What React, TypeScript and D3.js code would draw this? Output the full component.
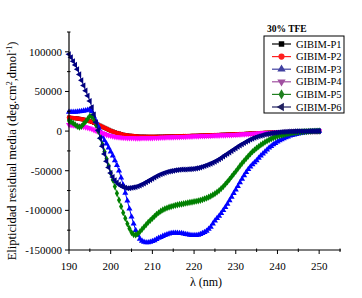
import React from "react";
import * as d3 from "d3";

const wavelengths: number[] = d3.range(0, 121).map((i) => 190 + i * 0.5);

const p2: number[] = [
  17000, 16700, 16500, 16200, 16000, 15500, 15000, 14500, 14000, 13300,
  12500, 11500, 10500, 9300, 8000, 6800, 5500, 4200, 3000, 1700,
  500, -500, -1500, -2300, -3000, -3800, -4500, -5000, -5500, -5800,
  -6000, -6300, -6500, -6800, -7000, -7000, -7000, -7100, -7200, -7200,
  -7200, -7200, -7100, -7000, -7000, -7000, -6900, -6800, -6800, -6700,
  -6700, -6600, -6600, -6500, -6400, -6300, -6300, -6200, -6100, -6000,
  -6000, -5900, -5800, -5700, -5600, -5500, -5400, -5300, -5200, -5100,
  -5000, -4900, -4800, -4700, -4600, -4500, -4400, -4300, -4200, -4100,
  -4000, -3900, -3800, -3700, -3600, -3400, -3300, -3100, -3000, -2900,
  -2800, -2600, -2500, -2300, -2200, -2100, -2000, -1900, -1800, -1700,
  -1600, -1500, -1400, -1300, -1200, -1100, -1000, -900, -800, -700,
  -600, -520, -450, -370, -300, -250, -200, -150, -100, -50,
  0,
];
const p1: number[] = [
  17000, 16700, 16500, 16200, 16000, 15500, 15000, 14500, 14000, 13300,
  12500, 11500, 10500, 9300, 8000, 6800, 5500, 4200, 3000, 1700,
  500, -500, -1500, -2300, -3000, -3800, -4500, -5000, -5500, -5800,
  -6000, -6300, -6500, -6800, -7000, -7000, -7000, -7100, -7200, -7200,
  -7200, -7200, -7100, -7000, -7000, -7000, -6900, -6800, -6800, -6700,
  -6700, -6600, -6600, -6500, -6400, -6300, -6300, -6200, -6100, -6000,
  -6000, -5900, -5800, -5700, -5600, -5500, -5400, -5300, -5200, -5100,
  -5000, -4900, -4800, -4700, -4600, -4500, -4400, -4300, -4200, -4100,
  -4000, -3900, -3800, -3700, -3600, -3400, -3300, -3100, -3000, -2900,
  -2800, -2600, -2500, -2300, -2200, -2100, -2000, -1900, -1800, -1700,
  -1600, -1500, -1400, -1300, -1200, -1100, -1000, -900, -800, -700,
  -600, -520, -450, -370, -300, -250, -200, -150, -100, -50,
  0,
];
const p3: number[] = [
  24000, 24000, 24000, 24200, 24500, 24700, 25000, 25500, 26000, 26500,
  27000, 25000, 18000, 12000, 6000, 0, -7000, -12000, -16000, -21000,
  -26000, -31000, -37000, -43000, -50000, -59000, -68000, -78000, -88000, -98000,
  -108000, -117000, -125000, -131000, -136000, -138500, -140000, -140500, -140500, -140000,
  -139000, -138000, -136500, -135000, -134000, -132500, -131500, -130500, -129500, -129000,
  -128500, -128500, -128500, -128800, -129000, -129500, -130000, -130500, -131000, -131300,
  -131500, -131500, -131000, -130000, -129000, -127500, -126000, -123500, -121000, -117000,
  -113000, -110000, -107000, -103500, -100000, -96000, -92000, -87500, -83000, -78500,
  -74000, -69500, -65000, -60500, -56000, -52000, -48000, -45000, -42000, -39500,
  -37000, -34000, -31000, -28500, -26000, -23500, -21000, -19000, -17000, -15200,
  -13500, -12000, -10500, -9200, -8000, -7000, -6000, -5200, -4500, -3900,
  -3300, -2800, -2300, -1900, -1500, -1200, -900, -650, -400, -200,
  0,
];
const p4: number[] = [
  8000, 7700, 7500, 7200, 7000, 6500, 6000, 5500, 5000, 4300,
  3500, 2500, 1500, 500, -500, -1500, -2500, -3500, -4500, -5300,
  -6000, -6500, -7000, -7400, -7800, -8000, -8300, -8500, -8600, -8700,
  -8800, -8850, -8900, -8900, -8900, -8850, -8800, -8750, -8700, -8650,
  -8600, -8500, -8400, -8300, -8200, -8100, -8000, -7900, -7800, -7700,
  -7600, -7500, -7400, -7300, -7200, -7100, -7000, -6900, -6800, -6700,
  -6600, -6500, -6400, -6300, -6200, -6100, -6000, -5900, -5800, -5700,
  -5600, -5500, -5400, -5300, -5200, -5100, -5000, -4900, -4800, -4650,
  -4500, -4350, -4200, -4050, -3900, -3750, -3600, -3450, -3300, -3150,
  -3000, -2850, -2700, -2550, -2400, -2250, -2100, -1950, -1800, -1700,
  -1600, -1500, -1400, -1300, -1200, -1100, -1000, -900, -800, -700,
  -600, -520, -450, -370, -300, -250, -200, -150, -100, -50,
  0,
];
const p5: number[] = [
  13000, 11500, 10000, 8000, 6000, 5000, 6000, 9000, 12000, 15500,
  19000, 18500, 14000, 7500, 0, -8500, -17000, -26000, -35000, -44000,
  -53000, -61500, -70000, -78500, -87000, -95000, -103000, -110000, -117000, -123000,
  -128000, -130500, -131000, -129500, -127000, -124000, -121000, -118000, -115000, -112500,
  -110000, -107500, -105000, -103000, -101000, -99500, -98000, -97000, -96000, -95200,
  -94500, -93700, -93000, -92500, -92000, -91500, -91000, -90500, -90000, -89500,
  -89000, -88500, -88000, -87300, -86500, -85500, -84500, -83300, -82000, -80500,
  -79000, -77000, -75000, -72500, -70000, -67000, -64000, -60800, -57500, -54200,
  -51000, -47500, -44000, -40700, -37500, -34500, -31500, -28700, -26000, -23700,
  -21500, -19500, -17500, -15700, -14000, -12500, -11000, -9700, -8500, -7500,
  -6500, -5700, -5000, -4400, -3800, -3300, -2800, -2400, -2000, -1700,
  -1400, -1150, -900, -720, -550, -420, -300, -200, -120, -60,
  0,
];
const p6: number[] = [
  97000, 93000, 88000, 83500, 78000, 71500, 64000, 57500, 51000, 44500,
  38000, 30000, 21000, 11000, 1000, -9000, -19000, -29000, -38000, -46000,
  -53000, -58000, -62000, -65000, -67500, -69200, -70500, -71400, -72000, -71900,
  -71500, -71000, -70500, -69500, -68500, -67300, -66000, -64500, -63000, -61500,
  -60000, -58500, -57000, -55700, -54500, -53500, -52500, -51700, -51000, -50500,
  -50000, -49500, -49000, -48700, -48500, -48500, -48500, -48200, -48000, -47800,
  -47500, -47000, -46500, -45800, -45000, -44000, -43000, -42000, -41000, -39800,
  -38500, -37000, -35500, -33800, -32000, -30200, -28500, -26800, -25000, -23200,
  -21500, -19700, -18000, -16500, -15000, -13500, -12000, -10700, -9500, -8500,
  -7500, -6600, -5800, -5100, -4400, -3800, -3300, -2800, -2400, -2000,
  -1700, -1450, -1200, -1000, -850, -700, -600, -500, -400, -320,
  -250, -200, -150, -120, -100, -70, -50, -30, -20, -10,
  0,
];

const seriesNames: string[] = ["GIBIM-P1", "GIBIM-P2", "GIBIM-P3", "GIBIM-P4", "GIBIM-P5", "GIBIM-P6"];
const seriesValues: number[][] = [p1, p2, p3, p4, p5, p6];
const seriesColors: string[] = ["#000000", "#ff0000", "#0000ff", "#ff00ff", "#008000", "#000080"];
const legendColors: string[] = ["#000000", "#ff2020", "#4040a0", "#a050a0", "#208020", "#202060"];

const xTicks: number[] = [190, 200, 210, 220, 230, 240, 250];
const yTicks: number[] = [-150000, -100000, -50000, 0, 50000, 100000];

const triDown: d3.SymbolType = {
  draw(ctx, size) {
    const y = -Math.sqrt(size / (Math.sqrt(3) * 3));
    ctx.moveTo(0, -y * 2);
    ctx.lineTo(-Math.sqrt(3) * y, y);
    ctx.lineTo(Math.sqrt(3) * y, y);
    ctx.closePath();
  },
};
const triLeft: d3.SymbolType = {
  draw(ctx, size) {
    const y = -Math.sqrt(size / (Math.sqrt(3) * 3));
    ctx.moveTo(y * 2, 0);
    ctx.lineTo(-y, -Math.sqrt(3) * y);
    ctx.lineTo(-y, Math.sqrt(3) * y);
    ctx.closePath();
  },
};
const symbols: d3.SymbolType[] = [d3.symbolSquare, d3.symbolCircle, d3.symbolTriangle, triDown, d3.symbolDiamond, triLeft];
const symSizes: number[] = [16, 16, 16, 16, 15, 16];

export default function App() {
  const W = 362, H = 298;
  const x = d3.scaleLinear().domain([190, 255]).range([69, 340]);
  const y = d3.scaleLinear().domain([-150000, 125000]).range([250, 32]);
  const font = "'Liberation Serif', 'Times New Roman', serif";
  const line = d3.line<number>().x((_, i) => x(wavelengths[i])).y((v) => y(v));
  const xMinor = d3.range(195, 256, 10);
  const yMinor = d3.range(-125000, 125001, 50000);

  return (
    <svg width={W} height={H} style={{ position: "absolute", left: 0, top: 0, background: "#fff" }} fontFamily={font}>
      {seriesValues.map((vals, si) => {
        const sym = d3.symbol().type(symbols[si]).size(symSizes[si])() as string;
        return (
          <g key={si}>
            <path d={line(vals) as string} fill="none" stroke={seriesColors[si]} strokeWidth={1} />
            {vals.map((v, i) => (
              <path key={i} d={sym} transform={`translate(${x(wavelengths[i])},${y(v)})`} fill={seriesColors[si]} />
            ))}
          </g>
        );
      })}
      <line x1={69} x2={69} y1={32} y2={250} stroke="#000" strokeWidth={1.2} />
      <line x1={69} x2={341} y1={250} y2={250} stroke="#000" strokeWidth={1.2} />
      {xTicks.map((t) => (
        <g key={t}>
          <line x1={x(t)} x2={x(t)} y1={250} y2={254} stroke="#000" strokeWidth={1} />
          <text x={x(t)} y={270} textAnchor="middle" fontSize={11}>{t}</text>
        </g>
      ))}
      {xMinor.map((t) => (
        <line key={t} x1={x(t)} x2={x(t)} y1={248.5} y2={252} stroke="#000" strokeWidth={1} />
      ))}
      {yTicks.map((t) => (
        <g key={t}>
          <line x1={65} x2={69} y1={y(t)} y2={y(t)} stroke="#000" strokeWidth={1} />
          <text x={62} y={y(t) + 3.8} textAnchor="end" fontSize={11}>{t}</text>
        </g>
      ))}
      {yMinor.map((t) => (
        <line key={t} x1={67} x2={70.5} y1={y(t)} y2={y(t)} stroke="#000" strokeWidth={1} />
      ))}
      <text x={206} y={286} textAnchor="middle" fontSize={12}>λ (nm)</text>
      <text transform="translate(16,151) rotate(-90)" textAnchor="middle" fontSize={12.5}>
        Elipticidad residual media (deg.cm<tspan dy={-4} fontSize={8}>2</tspan><tspan dy={4}>,dmol</tspan><tspan dy={-4} fontSize={8}>-1</tspan><tspan dy={4}>)</tspan>
      </text>
      <text x={267} y={32} fontSize={9.5} fontWeight="bold">30% TFE</text>
      <rect x={264} y={36} width={80} height={77} fill="#fff" stroke="#000" strokeWidth={1} />
      {seriesNames.map((n, i) => {
        const ly = 44 + i * 12.6;
        const sym = d3.symbol().type(symbols[i]).size(30)() as string;
        return (
          <g key={n}>
            <line x1={272} x2={291} y1={ly} y2={ly} stroke={legendColors[i]} strokeWidth={1.2} />
            <path d={sym} transform={`translate(281.5,${ly})`} fill={legendColors[i]} />
            <text x={296} y={ly + 3.6} fontSize={10.5}>{n}</text>
          </g>
        );
      })}
    </svg>
  );
}
